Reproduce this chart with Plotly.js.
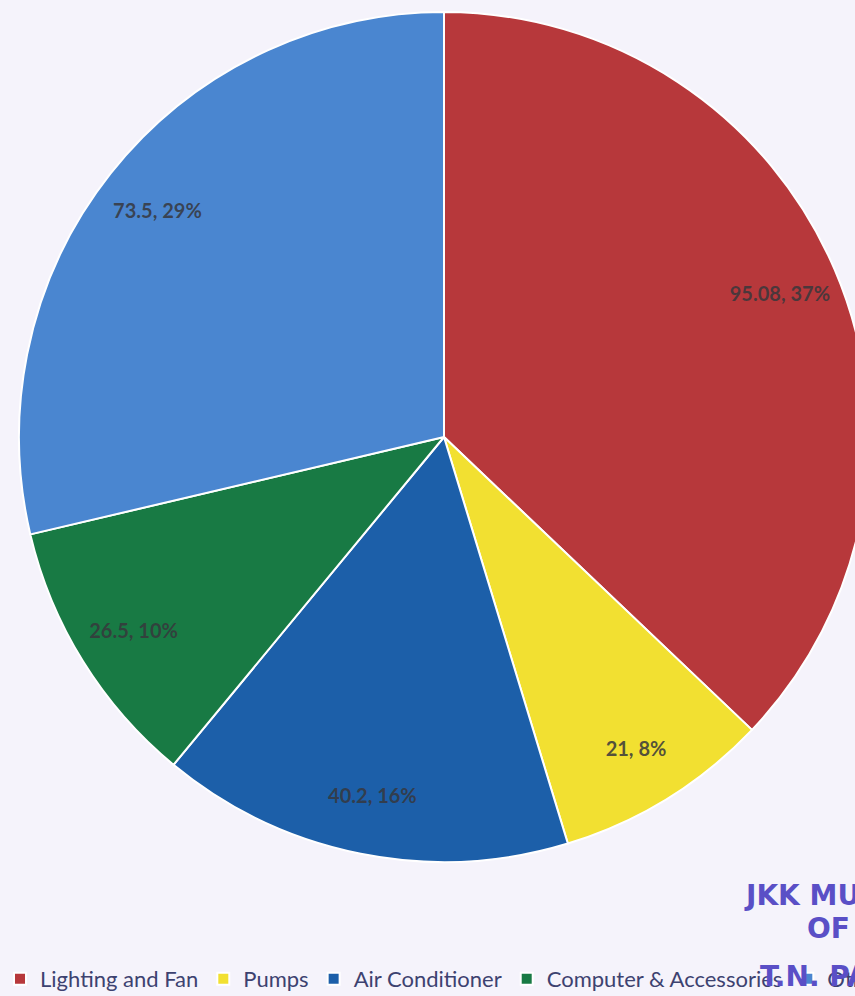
<!DOCTYPE html>
<html><head><meta charset="utf-8">
<script src="https://cdn.plot.ly/plotly-3.0.1.min.js"></script>
<style>html,body{margin:0;padding:0;overflow:hidden;background:#f5f3fb;}#chart{width:1000px;height:996px;}</style>
</head><body><div id="chart"></div>
<script>
const labels = ["Lighting and Fan", "Pumps", "Air Conditioner", "Computer & Accessories", "Others"];
const values = [95.08, 21, 40.2, 26.5, 73.5];
const colors = ["#b7383b", "#f2e031", "#1c5fa9", "#187a44", "#4a86d0"];
const stampLines = ["JKK MU", "OF", "T.N. PA"];

const W = 1000, H = 996;
const pieDomain = {x: [19/W, 869/W], y: [(H-862)/H, (H-12)/H]};

const slices = {
  type: "pie",
  labels: labels,
  values: values,
  sort: false,
  direction: "clockwise",
  rotation: 0,
  marker: {colors: colors, line: {color: "#ffffff", width: 2}},
  textinfo: "none",
  hoverinfo: "none",
  domain: pieDomain
};

// transparent ring used only to place the data labels near the rim
const labelRing = {
  type: "pie",
  labels: labels,
  values: values,
  sort: false,
  direction: "clockwise",
  rotation: 0,
  hole: 0.72,
  showlegend: false,
  marker: {colors: labels.map(() => "rgba(0,0,0,0)"), line: {width: 0}},
  textinfo: "text",
  texttemplate: "%{value}, %{percent:.0%}",
  textposition: "inside",
  insidetextorientation: "horizontal",
  textfont: {family: "Lato, 'Noto Sans', sans-serif", size: 20, weight: "bold", color: "rgba(55,55,60,0.85)"},
  hoverinfo: "none",
  domain: pieDomain
};

const stampFont = {family: "'DejaVu Sans', sans-serif", size: 28, weight: "bold", color: "#5a4fc6"};
const layout = {
  width: W, height: H,
  margin: {l: 0, r: 0, t: 0, b: 0, autoexpand: false},
  paper_bgcolor: "#f5f3fb",
  plot_bgcolor: "#f5f3fb",
  showlegend: true,
  legend: {orientation: "h", x: 0, xanchor: "left", y: (H-958)/H, yanchor: "top",
    font: {family: "Lato, 'Noto Sans', sans-serif", size: 22, color: "#3d4270"},
    itemwidth: 30, bgcolor: "rgba(0,0,0,0)", traceorder: "normal"},
  annotations: [
    {text: stampLines[0], xref: "paper", yref: "paper", x: 742/W, y: (H-895)/H, xanchor: "left", yanchor: "middle", showarrow: false, font: stampFont},
    {text: stampLines[1], xref: "paper", yref: "paper", x: 805/W, y: (H-928)/H, xanchor: "left", yanchor: "middle", showarrow: false, font: stampFont},
    {text: stampLines[2], xref: "paper", yref: "paper", x: 758/W, y: (H-976)/H, xanchor: "left", yanchor: "middle", showarrow: false, font: stampFont}
  ]
};
Plotly.newPlot("chart", [slices, labelRing], layout, {staticPlot: true, displayModeBar: false});
</script></body></html>
